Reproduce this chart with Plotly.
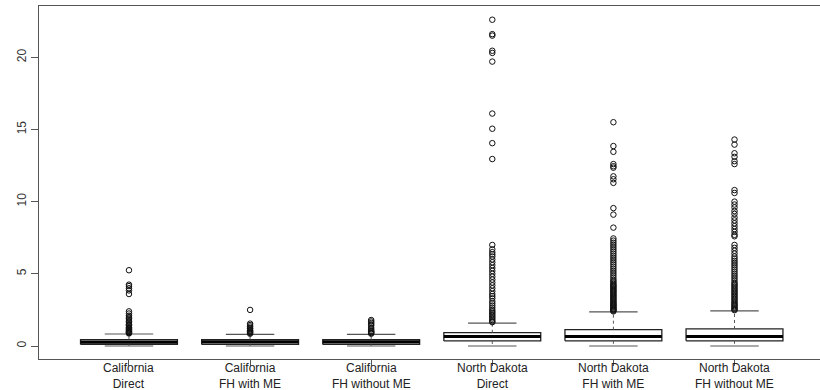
import plotly.graph_objects as go

categories = ["California<br>Direct", "California<br>FH with ME", "California<br>FH without ME",
              "North Dakota<br>Direct", "North Dakota<br>FH with ME", "North Dakota<br>FH without ME"]
lower_whisker = [0.0, 0.0, 0.0, 0.0, 0.0, 0.0]
q1 = [0.11, 0.11, 0.11, 0.35, 0.36, 0.36]
median = [0.27, 0.28, 0.28, 0.66, 0.66, 0.66]
q3 = [0.44, 0.44, 0.44, 0.92, 1.13, 1.18]
upper_whisker = [0.83, 0.80, 0.80, 1.59, 2.37, 2.44]

out_ca_direct = [5.25, 4.25, 4.15, 4.0, 3.85, 3.6, 2.4, 2.25, 2.1, 2.0, 1.9, 1.8, 1.7, 1.6, 1.5,
                 1.45, 1.4, 1.3, 1.25, 1.2, 1.15, 1.1, 1.05, 1.0, 0.97, 0.94, 0.9, 0.87]
out_ca_fh_me = [2.5, 1.55, 1.45, 1.35, 1.25, 1.2, 1.1, 1.05, 1.0, 0.95, 0.9, 0.85]
out_ca_fh_nome = [1.8, 1.7, 1.6, 1.5, 1.4, 1.25, 1.15, 1.05, 1.0, 0.95, 0.9, 0.85]
out_nd_direct = [22.6, 21.6, 21.5, 20.45, 20.3, 19.7, 16.1, 15.05, 14.05, 12.95, 7.0, 6.7, 6.5,
                 6.35, 6.2, 6.0, 5.8, 5.6, 5.4, 5.2, 5.0, 4.8, 4.6, 4.4, 4.2, 4.0, 3.8, 3.6, 3.45,
                 3.3, 3.1, 2.95, 2.8, 2.65, 2.5, 2.4, 2.3, 2.2, 2.1, 2.0, 1.9, 1.8, 1.7, 1.65]
out_nd_fh_me = [15.5, 13.85, 13.45, 12.6, 12.45, 12.35, 11.75, 11.55, 11.3, 9.55, 9.1, 8.2, 7.45,
                7.3, 7.15, 7.0, 6.85, 6.7, 6.55, 6.4, 6.25, 6.1, 5.95, 5.8, 5.65, 5.5, 5.35, 5.2,
                5.05, 4.9, 4.75, 4.6, 4.5, 4.4, 4.3, 4.22, 4.15, 4.08, 4.0, 3.92, 3.85, 3.78, 3.7,
                3.62, 3.55, 3.48, 3.4, 3.33, 3.25, 3.18, 3.1, 3.03, 2.96, 2.9, 2.84, 2.78, 2.72,
                2.66, 2.6, 2.55, 2.5, 2.45, 2.4]
out_nd_fh_nome = [14.3, 13.95, 13.35, 13.1, 12.8, 12.6, 10.8, 10.6, 10.0, 9.8, 9.6, 9.35, 9.15,
                  8.9, 8.7, 8.5, 8.3, 8.1, 7.9, 7.7, 7.6, 7.0, 6.8, 6.6, 6.4, 6.2, 6.05, 5.9, 5.75,
                  5.6, 5.45, 5.3, 5.15, 5.0, 4.85, 4.7, 4.55, 4.4, 4.3, 4.2, 4.1, 4.0, 3.9, 3.8,
                  3.7, 3.6, 3.5, 3.4, 3.3, 3.2, 3.1, 3.0, 2.92, 2.84, 2.76, 2.68, 2.6, 2.54, 2.48]
outliers = [out_ca_direct, out_ca_fh_me, out_ca_fh_nome, out_nd_direct, out_nd_fh_me, out_nd_fh_nome]
y_ticks = [0, 5, 10, 15, 20]

BOX_HALF = 0.4
CAP_HALF = 0.2
INK = "#222222"

fig = go.Figure()
for i in range(len(categories)):
    x = i + 1
    # box
    fig.add_trace(go.Scatter(
        x=[x - BOX_HALF, x + BOX_HALF, x + BOX_HALF, x - BOX_HALF, x - BOX_HALF],
        y=[q1[i], q1[i], q3[i], q3[i], q1[i]],
        mode="lines", line=dict(color=INK, width=1.3), fill="toself", fillcolor="white",
        hoverinfo="skip", showlegend=False))
    # median
    fig.add_trace(go.Scatter(
        x=[x - BOX_HALF, x + BOX_HALF], y=[median[i], median[i]],
        mode="lines", line=dict(color="black", width=3.2), hoverinfo="skip", showlegend=False))
    # whiskers (dashed)
    fig.add_trace(go.Scatter(
        x=[x, x, None, x, x], y=[q3[i], upper_whisker[i], None, q1[i], lower_whisker[i]],
        mode="lines", line=dict(color="#555555", width=1, dash="3px,3px"),
        hoverinfo="skip", showlegend=False))
    # caps
    fig.add_trace(go.Scatter(
        x=[x - CAP_HALF, x + CAP_HALF, None, x - CAP_HALF, x + CAP_HALF],
        y=[upper_whisker[i], upper_whisker[i], None, lower_whisker[i], lower_whisker[i]],
        mode="lines", line=dict(color="#555555", width=1.2), hoverinfo="skip", showlegend=False))
    # outliers
    fig.add_trace(go.Scatter(
        x=[x] * len(outliers[i]), y=outliers[i], mode="markers",
        marker=dict(symbol="circle-open", size=5.5, color="#111111", line=dict(width=1)),
        showlegend=False))

for i, lab in enumerate(categories):
    fig.add_annotation(x=i + 1, y=0, xref="x", yref="paper", text=lab, showarrow=False,
                       yanchor="top", yshift=0, font=dict(size=12, color=INK,
                       family="Liberation Sans, Arial, sans-serif"))

fig.update_layout(
    width=820, height=390,
    margin=dict(l=39, r=0, t=6, b=31),
    paper_bgcolor="white", plot_bgcolor="white",
    font=dict(family="Liberation Sans, Arial, sans-serif", size=12, color=INK),
    xaxis=dict(range=[0.257, 6.706], tickvals=[1, 2, 3, 4, 5, 6], ticktext=[""] * 6,
               ticks="outside", ticklen=6, tickcolor="#555555", showgrid=False, zeroline=False,
               showline=True, linecolor="#555555", linewidth=1.2, mirror=True),
    yaxis=dict(range=[-0.9, 23.55], tickvals=y_ticks, ticktext=[str(t) for t in y_ticks],
               tickangle=-90, ticks="outside", ticklen=7, tickcolor="#555555", showgrid=False,
               zeroline=False, showline=True, linecolor="#555555", linewidth=1.2,
               tickfont=dict(size=12, color="#333333")),
)

fig.write_html("out.html", config={"displayModeBar": False},
               post_script="document.body.style.margin='0';document.body.style.overflow='hidden';")
